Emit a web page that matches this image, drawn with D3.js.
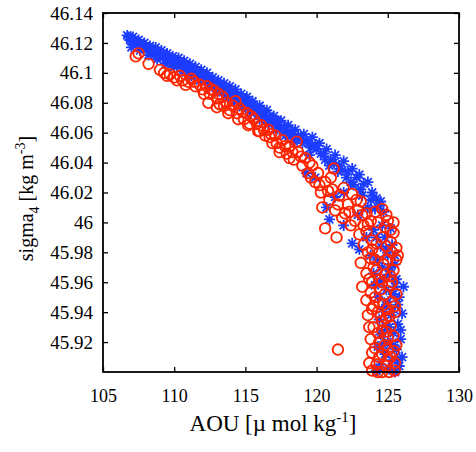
<!DOCTYPE html>
<html>
<head>
<meta charset="utf-8">
<script src="https://cdn.jsdelivr.net/npm/d3@7"></script>
<style>
  body { margin: 0; background: #fff; }
  svg { display: block; }
  .tick text { font-family: "Liberation Serif", "Times New Roman", serif; font-size: 18px; fill: #000; }
  .title { font-family: "Liberation Serif", "Times New Roman", serif; fill: #000; }
</style>
</head>
<body>
<svg width="476" height="452"></svg>
<script>
var xTicks = [105, 110, 115, 120, 125, 130];
var yTicks = [45.92, 45.94, 45.96, 45.98, 46, 46.02, 46.04, 46.06, 46.08, 46.1, 46.12, 46.14];

// blue asterisks [AOU, sigma4]
var blueStars = [
  [106.7,46.125],[106.9,46.122],[107.1,46.124],[107.3,46.120],[107.5,46.122],[107.7,46.118],[107.9,46.120],
  [108.1,46.116],[108.3,46.118],[108.5,46.114],[108.7,46.117],[108.9,46.112],[109.1,46.115],[109.3,46.111],
  [109.5,46.113],[109.7,46.108],[109.9,46.111],[110.1,46.107],[110.3,46.110],[110.5,46.105],[110.7,46.108],
  [110.9,46.103],[111.1,46.106],[111.3,46.101],[111.5,46.104],[111.7,46.099],[111.9,46.102],[112.1,46.097],
  [112.3,46.100],[112.5,46.094],[112.7,46.097],[112.9,46.092],[113.1,46.095],[113.3,46.089],[113.5,46.093],
  [113.7,46.087],[113.9,46.091],[114.1,46.085],[114.3,46.089],[114.5,46.083],[114.7,46.086],[114.9,46.080],
  [115.1,46.084],[115.3,46.078],[115.5,46.081],[115.8,46.075],[116.0,46.078],[116.3,46.072],[116.5,46.075],
  [116.8,46.069],[117.0,46.071],[117.3,46.065],[117.5,46.068],[117.8,46.062],[118.0,46.065],[118.3,46.059],
  [118.5,46.062],[118.9,46.056],[119.1,46.059],[119.4,46.053],[119.7,46.057],[120.0,46.049],[120.2,46.053],
  [120.5,46.046],[120.7,46.049],[121.0,46.042],[121.3,46.045],[121.6,46.038],[121.9,46.041],[122.2,46.034],
  [122.5,46.036],[122.8,46.030],[123.0,46.032],[123.3,46.026],[123.6,46.027],[123.9,46.020],[124.2,46.016],
  [124.4,46.011],[124.7,46.007],
  [106.8,46.124],[107.0,46.121],[107.2,46.122],[107.4,46.119],[107.6,46.120],[107.8,46.117],[108.0,46.118],
  [108.2,46.114],[108.4,46.116],[108.6,46.112],[108.8,46.114],[109.0,46.111],[109.2,46.113],[109.4,46.109],
  [109.6,46.111],[109.8,46.106],[110.0,46.109],[110.2,46.105],[110.4,46.107],[110.6,46.103],[110.8,46.106],
  [111.0,46.101],[111.2,46.104],[111.4,46.099],[111.6,46.101],[111.8,46.097],[112.0,46.099],[112.2,46.095],
  [112.4,46.097],[112.6,46.092],[112.8,46.094],[113.0,46.090],[113.2,46.092],[113.4,46.087],[113.6,46.089],
  [113.8,46.084],[114.0,46.087],[114.2,46.082],[114.4,46.085],[114.6,46.080],[114.8,46.083],[115.0,46.077],
  [115.2,46.080],[115.4,46.075],[115.7,46.077],[115.9,46.072],[116.2,46.074],[116.4,46.069],[116.7,46.071],
  [116.9,46.066],[117.2,46.068],[117.4,46.062],[117.7,46.064],[117.9,46.059],[118.2,46.061],[118.4,46.056],
  [118.7,46.058],[119.0,46.053],[119.3,46.055],[119.6,46.050],[119.9,46.052],[120.3,46.046],[120.6,46.042],
  [120.9,46.038],[121.2,46.040],[121.5,46.034],[121.8,46.035],[122.1,46.030],[122.6,46.025],[123.1,46.022],
  [123.8,46.015],[124.1,46.009],
  [107.0,46.117],[107.6,46.115],[108.2,46.112],[108.8,46.109],[109.4,46.106],[110.0,46.104],[110.6,46.101],
  [111.2,46.098],[111.8,46.095],[112.4,46.092],[113.0,46.088],[113.6,46.085],[114.2,46.081],[114.8,46.077],
  [115.4,46.073],[116.0,46.069],[116.6,46.066],[117.2,46.062],[117.8,46.058],[118.4,46.054],
  [119.3,46.033],[119.9,46.030],[120.7,46.010],[120.9,46.002],[121.3,46.017],[121.9,46.020],[121.9,45.998],
  [122.5,45.986],[122.4,46.027],[123.2,46.018],[124.5,46.014],[119.5,46.045],[122.9,46.005],[123.6,46.010],
  [123.0,45.982],[123.5,45.990],[124.0,45.995],[124.6,45.998],[125.2,45.996],[124.8,45.990],[125.3,45.985],
  [124.5,45.984],[123.8,45.978],[124.3,45.975],[125.0,45.978],[125.5,45.972],[124.6,45.970],[124.0,45.966],
  [125.1,45.965],[125.6,45.962],[126.1,45.957],[124.5,45.960],[124.9,45.955],[125.4,45.952],[124.3,45.950],
  [125.0,45.947],[125.7,45.945],[124.6,45.942],[126.0,45.939],[125.2,45.938],[124.4,45.935],[125.7,45.932],
  [124.9,45.930],[125.4,45.926],[124.5,45.925],[125.9,45.922],[125.0,45.920],[124.3,45.917],[125.6,45.915],
  [126.0,45.910],[124.8,45.912],[125.3,45.908],[124.5,45.905],[125.8,45.904],[125.1,45.902],[124.2,45.901],
  [125.5,45.900],[124.2,45.990],[124.9,45.982],[125.5,45.978],[124.7,45.962],[125.3,45.940],[125.9,45.928],
  [124.7,45.918],[125.7,45.908],[125.2,45.970],[124.9,45.944],[125.5,45.957],[124.1,45.958],[125.8,45.950],
  [124.6,45.926],[125.4,45.918],[125.1,45.930]
];

// red circles [AOU, sigma4]
var redCircles = [
  [107.3,46.111],[107.5,46.113],[108.2,46.106],[109.0,46.102],[109.3,46.100],[109.7,46.099],[110.0,46.097],
  [110.4,46.098],[110.6,46.095],[111.0,46.094],[111.2,46.096],[111.5,46.091],[111.8,46.092],[112.0,46.089],
  [112.3,46.091],[112.5,46.086],[112.8,46.088],[113.0,46.083],[113.2,46.079],[113.4,46.084],[113.7,46.080],
  [113.9,46.075],[114.1,46.078],[114.4,46.073],[114.6,46.076],[114.9,46.069],[115.1,46.073],[115.3,46.066],
  [115.6,46.069],[115.9,46.061],[116.1,46.065],[116.4,46.058],[116.6,46.062],[116.9,46.053],[117.1,46.058],
  [117.4,46.050],[117.6,46.055],[117.9,46.046],[118.1,46.051],[118.4,46.042],[118.6,46.054],[118.7,46.047],
  [119.0,46.038],[119.2,46.043],[119.4,46.033],[119.7,46.038],[119.9,46.027],[120.1,46.033],[120.3,46.020],
  [120.4,46.010],[120.6,45.996],[120.6,46.027],[120.9,46.015],[121.1,46.022],[121.2,46.036],[121.3,46.008],
  [121.4,45.990],[121.6,46.018],[121.9,46.023],[122.0,46.006],[122.2,46.012],[122.5,46.019],[122.7,46.001],
  [122.9,46.008],[123.1,46.014],[123.3,45.998],[123.5,46.006],[123.8,46.001],[124.1,46.007],[124.6,46.009],
  [125.0,46.001],[125.4,46.000],
  [109.5,46.098],[110.2,46.095],[110.8,46.092],[111.4,46.094],[112.1,46.086],[112.6,46.089],[113.1,46.086],
  [113.5,46.078],[114.3,46.081],[114.8,46.074],[115.4,46.071],[115.8,46.066],[116.3,46.062],[116.8,46.059],
  [117.2,46.053],[117.8,46.051],[118.3,46.047],[118.9,46.044],[119.5,46.040],[119.6,46.030],[120.2,46.025],
  [120.8,46.021],[121.0,46.030],[121.5,46.012],[121.8,46.003],[122.3,46.007],[122.4,45.998],[122.8,46.015],
  [123.2,46.005],[123.0,45.992],[123.6,45.999],[124.3,46.000],[124.9,46.005],[125.2,45.995],
  [112.4,46.080],[113.0,46.077],[113.8,46.073],[114.5,46.069],[115.2,46.065],[116.0,46.061],[116.7,46.057],
  [117.4,46.047],[118.1,46.043],
  [123.3,45.985],[123.9,45.988],[124.6,45.990],[125.2,45.987],[125.6,45.983],[123.1,45.973],[123.8,45.976],
  [124.4,45.980],[125.0,45.975],[125.7,45.978],[123.5,45.966],[124.2,45.968],[124.8,45.965],[125.4,45.968],
  [123.2,45.957],[123.9,45.960],[124.5,45.955],[125.1,45.958],[125.6,45.952],[123.5,45.948],[124.1,45.950],
  [124.7,45.945],[125.3,45.947],[123.6,45.938],[124.3,45.940],[124.9,45.936],[125.5,45.940],[124.0,45.930],
  [124.6,45.928],[125.2,45.931],[123.8,45.922],[124.4,45.920],[125.0,45.923],[125.6,45.918],[123.9,45.913],
  [124.6,45.912],[125.2,45.910],[124.2,45.905],[124.9,45.904],[125.5,45.906],[123.9,45.901],[124.6,45.900],
  [125.5,45.901],[121.5,45.915],[124.0,45.944],[124.8,45.952],[125.3,45.960],[124.2,45.986],[124.8,45.997],
  [125.4,45.993],[123.5,45.994],[124.4,45.962],[124.6,45.934],[125.0,45.915],
  [123.6,45.980],[124.1,45.975],[124.7,45.972],[125.3,45.980],[123.7,45.962],[124.6,45.960],[125.2,45.964],
  [123.8,45.953],[124.4,45.946],[125.0,45.942],[125.5,45.944],[123.9,45.942],[124.5,45.937],[125.1,45.937],
  [123.7,45.930],[124.3,45.926],[124.9,45.927],[125.4,45.924],[124.1,45.916],[124.8,45.918],[125.4,45.914],
  [124.4,45.910],[123.7,45.906],[125.0,45.908],[124.3,45.900],[125.1,45.900],[124.0,45.970],[124.9,45.984],
  [123.9,45.982],[125.6,45.975]
];

var svg = d3.select("svg"),
    width = +svg.attr("width"),
    height = +svg.attr("height");

var pLeft = 103, pRight = 459, pTop = 13, pBottom = 372;

var x = d3.scaleLinear().domain([105, 130]).range([pLeft, pRight]);
var y = d3.scaleLinear().domain([45.9, 46.14]).range([pBottom, pTop]);

var blue = "#1c3cff", red = "#ff2400";

// axes with inward ticks
svg.append("g")
    .attr("transform", "translate(0," + pBottom + ")")
    .call(d3.axisBottom(x).tickValues(xTicks).tickSizeInner(-5).tickSizeOuter(0).tickPadding(17))
svg.append("g")
    .attr("class", "yaxis")
    .attr("transform", "translate(" + pLeft + ",0)")
    .call(d3.axisLeft(y).tickValues(yTicks).tickSizeInner(-5).tickSizeOuter(0).tickPadding(10)
      .tickFormat(function(d){ return +d.toFixed(2) }))
svg.append("g")
    .attr("transform", "translate(0," + pTop + ")")
    .call(d3.axisTop(x).tickValues(xTicks).tickSizeInner(-5).tickSizeOuter(0).tickFormat(""))
svg.append("g")
    .attr("transform", "translate(" + pRight + ",0)")
    .call(d3.axisRight(y).tickValues(yTicks).tickSizeInner(-5).tickSizeOuter(0).tickFormat(""))

svg.selectAll(".domain").remove();
svg.selectAll(".tick line").style("stroke", "#000").style("stroke-width", "1.3px");
svg.selectAll(".yaxis .tick text").style("font-size", "19px");

// asterisk: 4 strokes through the centre
var a = 5.5, d = 4;
var star = "M" + (-a) + ",0L" + a + ",0M0," + (-a) + "L0," + a +
           "M" + (-d) + "," + (-d) + "L" + d + "," + d +
           "M" + (-d) + "," + d + "L" + d + "," + (-d);

svg.append("g")
  .selectAll("path")
  .data(blueStars)
  .enter().append("path")
    .attr("d", star)
    .attr("transform", function(p){ return "translate(" + x(p[0]) + "," + y(p[1]) + ")" })
    .style("fill", "none")
    .style("stroke", blue)
    .style("stroke-width", "1.8px");

svg.append("g")
  .selectAll("circle")
  .data(redCircles)
  .enter().append("circle")
    .attr("cx", function(p){ return x(p[0]) })
    .attr("cy", function(p){ return y(p[1]) })
    .attr("r", 5.3)
    .style("fill", "none")
    .style("stroke", red)
    .style("stroke-width", "1.8px");

// frame
svg.append("rect")
    .attr("x", pLeft).attr("y", pTop)
    .attr("width", pRight - pLeft).attr("height", pBottom - pTop)
    .style("fill", "none").style("stroke", "#000").style("stroke-width", "1.8px");

// axis titles
var xt = svg.append("text").attr("class", "title")
    .attr("x", 273).attr("y", 431)
    .attr("text-anchor", "middle").style("font-size", "23px");
xt.append("tspan").text("AOU [\u00b5 mol kg");
xt.append("tspan").attr("dy", -9).style("font-size", "15px").text("-1");
xt.append("tspan").attr("dy", 9).text("]");

var yt = svg.append("text").attr("class", "title")
    .attr("transform", "translate(33," + ((pTop + pBottom) / 2 + 6) + ") rotate(-90)")
    .attr("text-anchor", "middle").style("font-size", "20px");
yt.append("tspan").text("sigma");
yt.append("tspan").attr("dy", 6).style("font-size", "14px").text("4");
yt.append("tspan").attr("dy", -6).text(" [kg m");
yt.append("tspan").attr("dy", -8).style("font-size", "14px").text("-3");
yt.append("tspan").attr("dy", 8).text("]");
</script>
</body>
</html>
